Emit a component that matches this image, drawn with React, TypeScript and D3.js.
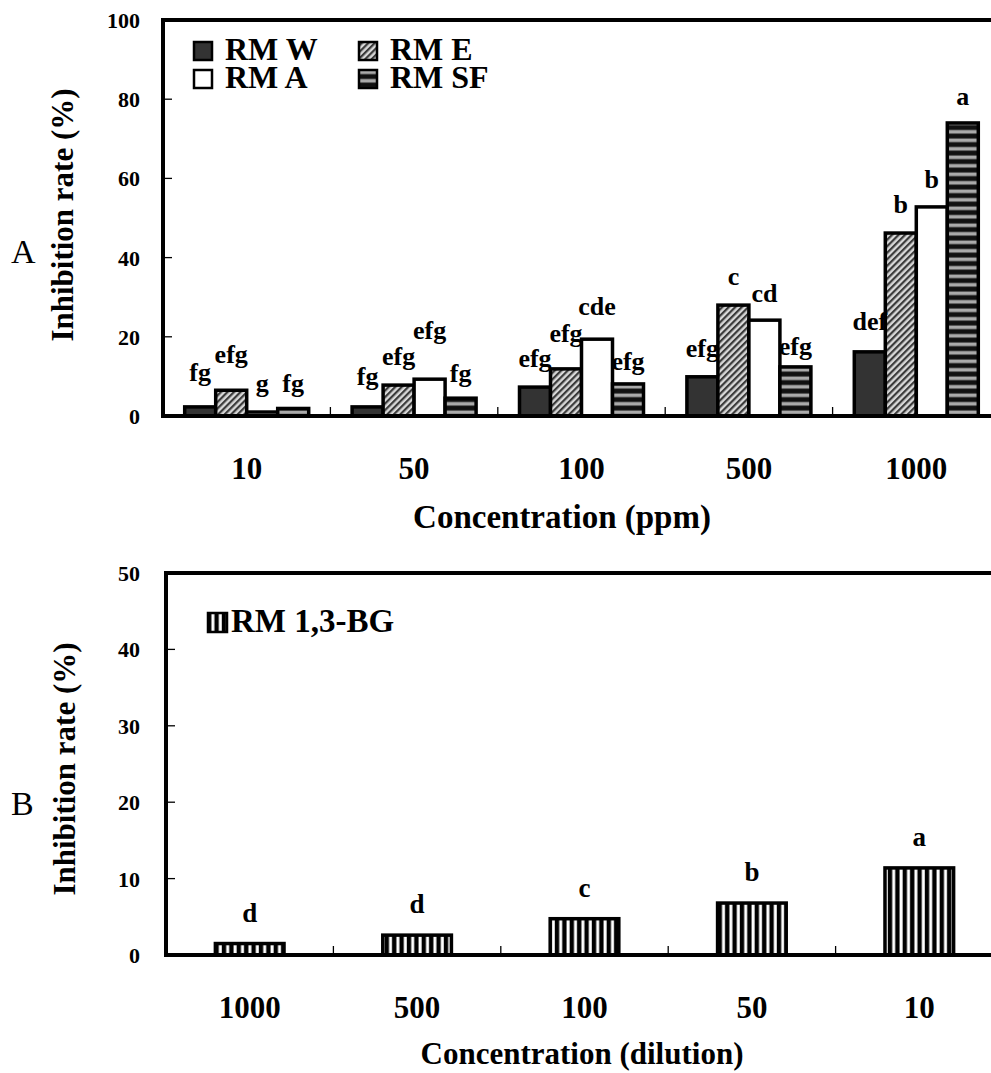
import React from "react";
import * as d3 from "d3";

// ---------- Panel A data ----------
const concentrationsA = ["10", "50", "100", "500", "1000"];
const seriesA = ["RM W", "RM E", "RM A", "RM SF"];
const rmW = [2.3, 2.3, 7.3, 9.9, 16.2];
const rmE = [6.5, 7.8, 11.9, 28.0, 46.2];
const rmA = [1.0, 9.3, 19.4, 24.2, 52.8];
const rmSF = [1.9, 4.5, 8.1, 12.4, 74.0];
const lettersW = ["fg", "fg", "efg", "efg", "def"];
const lettersE = ["efg", "efg", "efg", "c", "b"];
const lettersA = ["g", "efg", "cde", "cd", "b"];
const lettersSF = ["fg", "fg", "efg", "efg", "a"];
// height (in % units) at which each letter sits
const letterAtW = [8.8, 7.8, 12.4, 14.9, 21.7];
const letterAtE = [13.4, 12.9, 18.7, 33.1, 51.3];
const letterAtA = [6.1, 19.4, 25.5, 28.8, 57.6];
const letterAtSF = [6.1, 8.6, 11.6, 15.4, 78.5];
const ticksA = [0, 20, 40, 60, 80, 100];

// ---------- Panel B data ----------
const dilutionsB = ["1000", "500", "100", "50", "10"];
const rmBG = [1.5, 2.6, 4.75, 6.8, 11.4];
const lettersBG = ["d", "d", "c", "b", "a"];
const ticksB = [0, 10, 20, 30, 40, 50];

const FONT = "Liberation Serif";

const valuesA = [rmW, rmE, rmA, rmSF];
const lettersAll = [lettersW, lettersE, lettersA, lettersSF];
const letterAtAll = [letterAtW, letterAtE, letterAtA, letterAtSF];
const fillsA = ["#333333", "url(#hatchE)", "#ffffff", "url(#stripeSF)"];

export default function App() {
  const W = 991;
  const H = 1073;
  const A = { left: 163, right: 1000, top: 20, bottom: 416 };
  const B = { left: 166, right: 1003, top: 573, bottom: 955 };

  const xA = d3.scaleBand<string>().domain(concentrationsA).range([A.left, A.right]).padding(0);
  const xInner = d3
    .scaleBand<string>()
    .domain(seriesA)
    .range([0, xA.bandwidth()])
    .paddingInner(0)
    .paddingOuter(0.7);
  const yA = d3.scaleLinear().domain([0, 100]).range([A.bottom, A.top]);

  const xB = d3.scaleBand<string>().domain(dilutionsB).range([B.left, B.right]).padding(0);
  const barWB = xB.bandwidth() * 0.41;
  const yB = d3.scaleLinear().domain([0, 50]).range([B.bottom, B.top]);

  const axisStroke = 4;
  const txt = { fontFamily: FONT, fontWeight: 700 as const };

  const yAxis = (
    y: d3.ScaleLinear<number, number>,
    ticks: number[],
    left: number,
    key: string
  ) =>
    ticks.map((t) => (
      <g key={key + t}>
        {t !== ticks[ticks.length - 1] && t !== 0 && (
          <line x1={left} x2={left + 9} y1={y(t)} y2={y(t)} stroke="#000" strokeWidth={1.3} />
        )}
        <text x={140} y={y(t) + 8} textAnchor="end" style={{ ...txt, fontSize: 22 }}>
          {t}
        </text>
      </g>
    ));

  return (
    <svg
      width={W}
      height={H}
      style={{ position: "absolute", left: 0, top: 0, background: "#fff" }}
    >
      <defs>
        <pattern
          id="hatchE"
          patternUnits="userSpaceOnUse"
          width={4.6}
          height={4.6}
          patternTransform="rotate(45)"
        >
          <rect width={4.6} height={4.6} fill="#d8d8d8" />
          <rect width={2.2} height={4.6} fill="#3a3a3a" />
        </pattern>
        <pattern id="stripeSF" patternUnits="userSpaceOnUse" width={10} height={8.5}>
          <rect width={10} height={8.5} fill="#111" />
          <rect y={2.5} width={10} height={3.6} fill="#aaaaaa" />
        </pattern>
        <pattern id="stripeBG" patternUnits="userSpaceOnUse" width={7.4} height={10}>
          <rect width={7.4} height={10} fill="#000" />
          <rect x={4.2} width={3.0} height={10} fill="#fff" />
        </pattern>
      </defs>

      {/* ================= Panel A ================= */}
      <g>
        {concentrationsA.map((c, ci) =>
          seriesA.map((s, si) => {
            const v = valuesA[si][ci];
            const x = (xA(c) as number) + (xInner(s) as number);
            return (
              <rect
                key={c + s}
                x={x}
                y={yA(v)}
                width={xInner.bandwidth()}
                height={yA(0) - yA(v)}
                fill={fillsA[si]}
                stroke="#000"
                strokeWidth={3.5}
              />
            );
          })
        )}
        {concentrationsA.map((c, ci) =>
          seriesA.map((s, si) => {
            const x = (xA(c) as number) + (xInner(s) as number) + xInner.bandwidth() / 2;
            return (
              <text
                key={"l" + c + s}
                x={x}
                y={yA(letterAtAll[si][ci])}
                textAnchor="middle"
                style={{ ...txt, fontSize: 26 }}
              >
                {lettersAll[si][ci]}
              </text>
            );
          })
        )}
        <line x1={A.left} x2={W} y1={A.top} y2={A.top} stroke="#000" strokeWidth={axisStroke} />
        <line x1={A.left} x2={W} y1={A.bottom} y2={A.bottom} stroke="#000" strokeWidth={axisStroke} />
        <line
          x1={A.left}
          x2={A.left}
          y1={A.top - 2}
          y2={A.bottom + 2}
          stroke="#000"
          strokeWidth={axisStroke}
        />
        {yAxis(yA, ticksA, A.left, "ya")}
        {concentrationsA.slice(1).map((c) => (
          <line
            key={"xt" + c}
            x1={xA(c)}
            x2={xA(c)}
            y1={A.bottom}
            y2={A.bottom - 9}
            stroke="#000"
            strokeWidth={1.3}
          />
        ))}
        {concentrationsA.map((c) => (
          <text
            key={"xl" + c}
            x={(xA(c) as number) + xA.bandwidth() / 2}
            y={A.bottom + 63}
            textAnchor="middle"
            style={{ ...txt, fontSize: 31 }}
          >
            {c}
          </text>
        ))}
        <text x={562} y={A.bottom + 112} textAnchor="middle" style={{ ...txt, fontSize: 33 }}>
          Concentration (ppm)
        </text>
        <text
          transform={`translate(73, ${(A.top + A.bottom) / 2 - 3}) rotate(-90)`}
          textAnchor="middle"
          style={{ ...txt, fontSize: 31 }}
        >
          Inhibition rate (%)
        </text>
        <text x={11} y={263} style={{ fontFamily: FONT, fontSize: 34 }}>
          A
        </text>
        {seriesA.map((s, si) => {
          const cc = si % 2;
          const rr = si < 2 ? 0 : 1;
          const lx = 194 + cc * 165;
          const ly = 42 + rr * 28;
          return (
            <g key={"lg" + s}>
              <rect
                x={lx}
                y={ly}
                width={18}
                height={18}
                fill={fillsA[si]}
                stroke="#000"
                strokeWidth={2.5}
              />
              <text x={lx + 31} y={ly + 18} style={{ ...txt, fontSize: 32 }}>
                {s}
              </text>
            </g>
          );
        })}
      </g>

      {/* ================= Panel B ================= */}
      <g>
        {dilutionsB.map((d, i) => {
          const cx = (xB(d) as number) + xB.bandwidth() / 2;
          const v = rmBG[i];
          return (
            <g key={"b" + d}>
              <rect
                x={cx - barWB / 2}
                y={yB(v)}
                width={barWB}
                height={yB(0) - yB(v)}
                fill="url(#stripeBG)"
                stroke="#000"
                strokeWidth={3.5}
              />
              <text x={cx} y={yB(v) - 22} textAnchor="middle" style={{ ...txt, fontSize: 27 }}>
                {lettersBG[i]}
              </text>
            </g>
          );
        })}
        <line x1={B.left} x2={W} y1={B.top} y2={B.top} stroke="#000" strokeWidth={axisStroke} />
        <line x1={B.left} x2={W} y1={B.bottom} y2={B.bottom} stroke="#000" strokeWidth={axisStroke} />
        <line
          x1={B.left}
          x2={B.left}
          y1={B.top - 2}
          y2={B.bottom + 2}
          stroke="#000"
          strokeWidth={axisStroke}
        />
        {yAxis(yB, ticksB, B.left, "yb")}
        {dilutionsB.slice(1).map((d) => (
          <line
            key={"xbt" + d}
            x1={xB(d)}
            x2={xB(d)}
            y1={B.bottom}
            y2={B.bottom - 9}
            stroke="#000"
            strokeWidth={1.3}
          />
        ))}
        {dilutionsB.map((d) => (
          <text
            key={"xbl" + d}
            x={(xB(d) as number) + xB.bandwidth() / 2}
            y={B.bottom + 63}
            textAnchor="middle"
            style={{ ...txt, fontSize: 31 }}
          >
            {d}
          </text>
        ))}
        <text x={582} y={B.bottom + 109} textAnchor="middle" style={{ ...txt, fontSize: 31 }}>
          Concentration (dilution)
        </text>
        <text
          transform={`translate(75, ${(B.top + B.bottom) / 2 + 5}) rotate(-90)`}
          textAnchor="middle"
          style={{ ...txt, fontSize: 31 }}
        >
          Inhibition rate (%)
        </text>
        <text x={11} y={815} style={{ fontFamily: FONT, fontSize: 34 }}>
          B
        </text>
        <rect
          x={208}
          y={613}
          width={19}
          height={19}
          fill="url(#stripeBG)"
          stroke="#000"
          strokeWidth={2.5}
        />
        <text x={231} y={632} style={{ ...txt, fontSize: 33 }}>
          RM 1,3-BG
        </text>
      </g>
    </svg>
  );
}
